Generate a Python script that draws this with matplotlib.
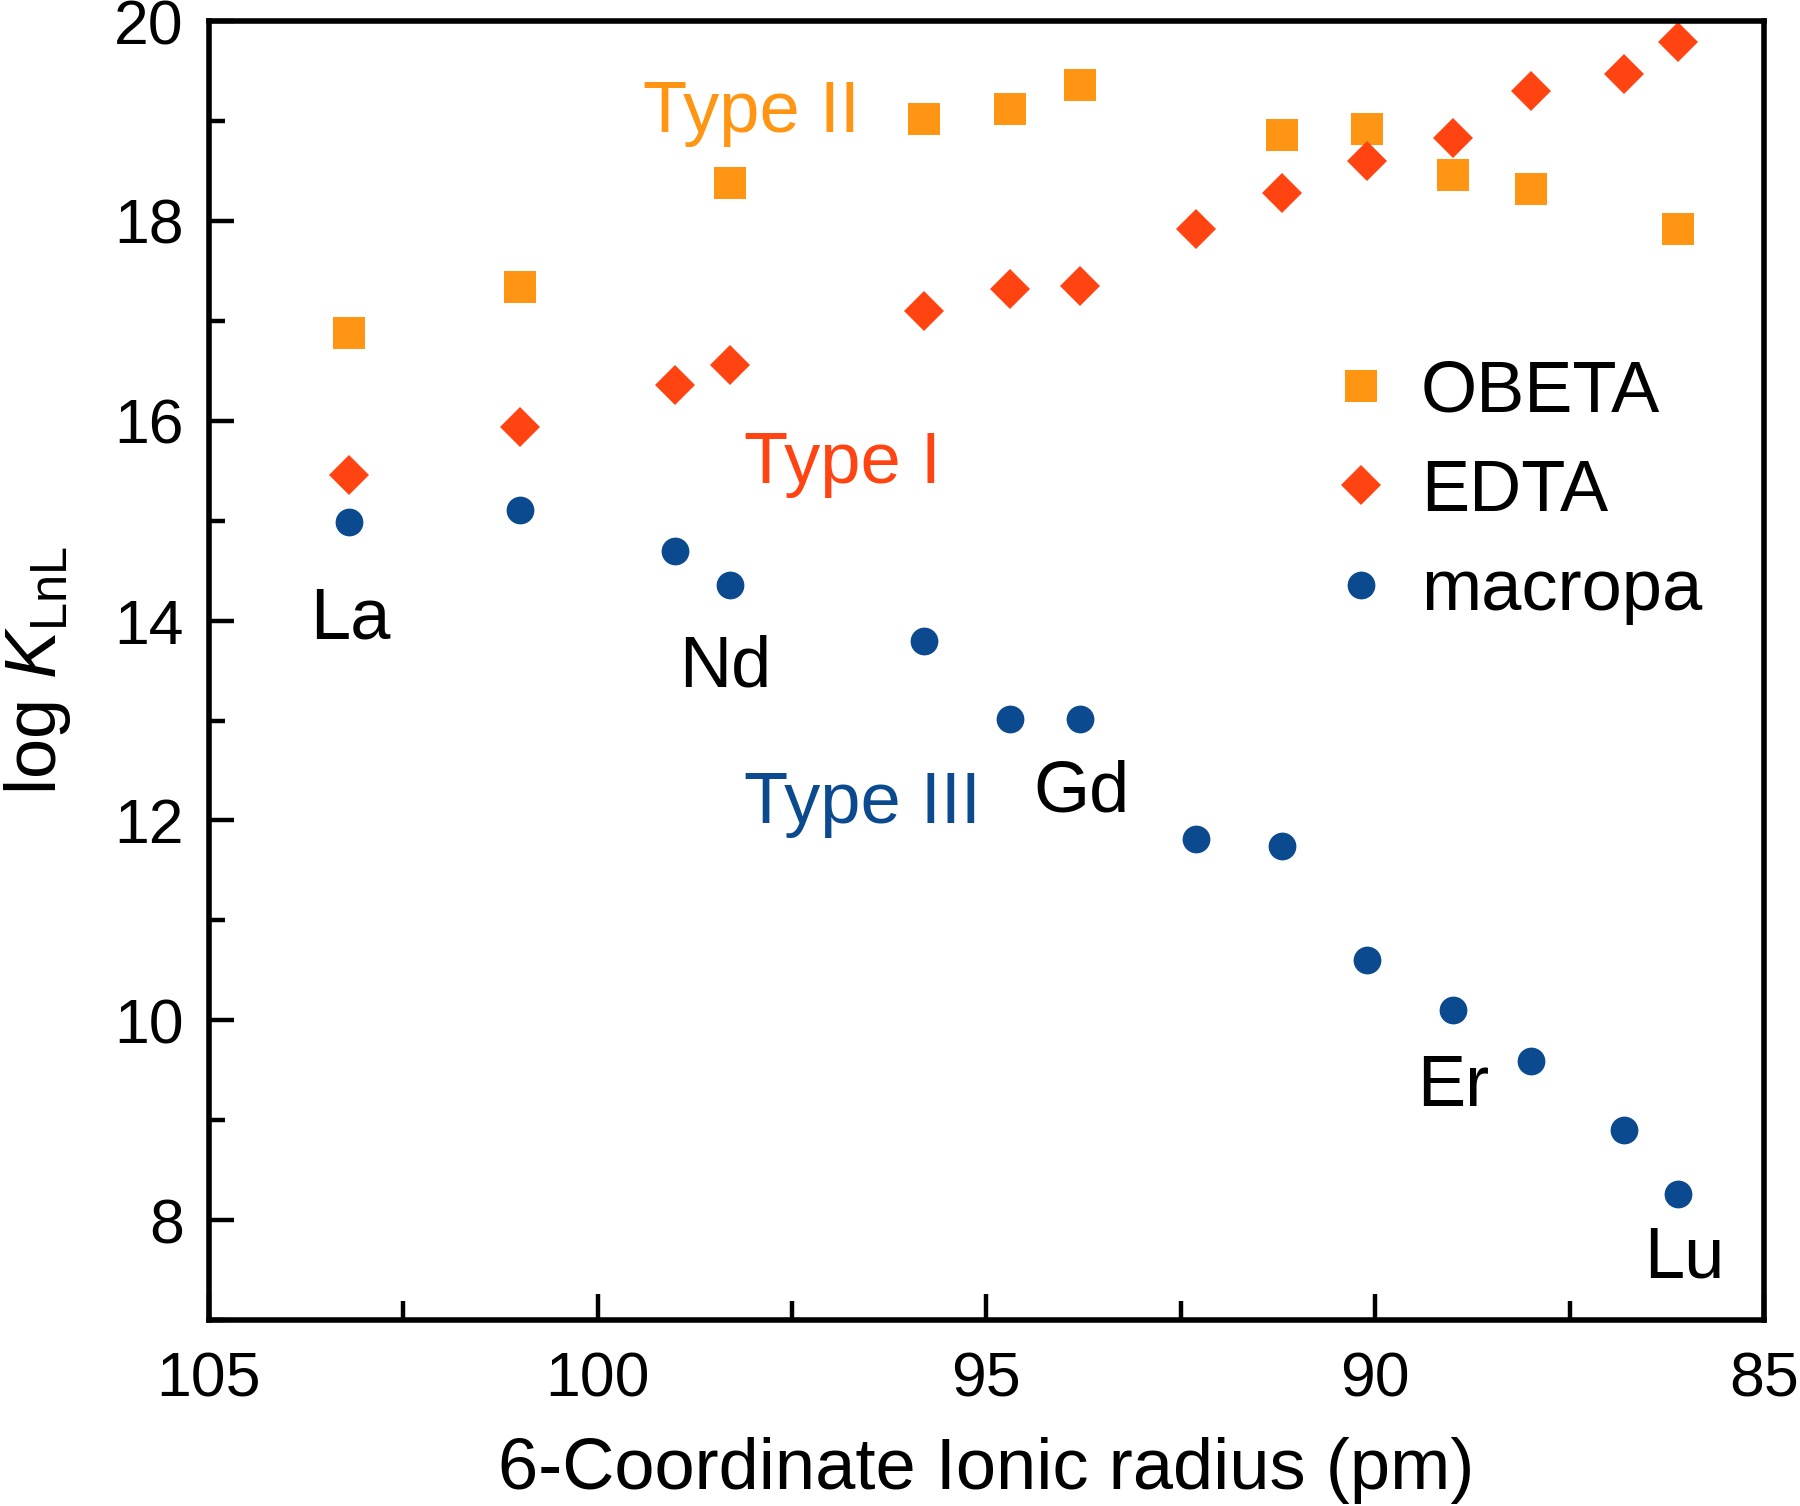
import matplotlib
matplotlib.use("Agg")
import matplotlib.pyplot as plt
from matplotlib.ticker import MultipleLocator
import numpy as np

plt.rcParams['font.family'] = ['Liberation Sans', 'DejaVu Sans']
plt.rcParams['mathtext.fontset'] = 'custom'
plt.rcParams['mathtext.rm'] = 'Liberation Sans'
plt.rcParams['mathtext.it'] = 'Liberation Sans:italic'

elements = ['La', 'Ce', 'Pr', 'Nd', 'Sm', 'Eu', 'Gd', 'Tb', 'Dy', 'Ho', 'Er', 'Tm', 'Yb', 'Lu']
radius = [103.2, 101.0, 99.0, 98.3, 95.8, 94.7, 93.8, 92.3, 91.2, 90.1, 89.0, 88.0, 86.8, 86.1]

obeta = [16.88, 17.34, np.nan, 18.38, 19.02, 19.12, 19.36, np.nan, 18.86, 18.92, 18.46, 18.32, np.nan, 17.92]
edta = [15.46, 15.94, 16.36, 16.56, 17.10, 17.32, 17.35, 17.92, 18.28, 18.60, 18.83, 19.30, 19.47, 19.79]
macropa = [14.99, 15.11, 14.70, 14.36, 13.80, 13.02, 13.02, 11.81, 11.74, 10.60, 10.10, 9.59, 8.90, 8.26]

labels_el = ['La', 'Nd', 'Gd', 'Er', 'Lu']
labels_pos = [(103.18, 14.01), (98.36, 13.53), (93.78, 12.27), (89.0, 9.33), (86.02, 7.61)]

c_obeta = '#FF9512'
c_edta = '#FF4412'
c_mac = '#0B4A8E'

fig = plt.figure(figsize=(18, 15.06), dpi=100)
ax = fig.add_axes([0.116, 0.1235, 0.864, 0.8625])

ax.plot(radius, obeta, ls='none', marker='s', ms=23.5, color=c_obeta, mew=0, label='OBETA')
ax.plot(radius, edta, ls='none', marker='D', ms=20, color=c_edta, mew=0, label='EDTA')
ax.plot(radius, macropa, ls='none', marker='o', ms=20, color=c_mac, mew=0, label='macropa')

ax.set_xlim(105, 85)
ax.set_ylim(7, 20)
ax.xaxis.set_major_locator(MultipleLocator(5))
ax.xaxis.set_minor_locator(MultipleLocator(2.5))
ax.yaxis.set_major_locator(MultipleLocator(2))
ax.yaxis.set_minor_locator(MultipleLocator(1))
ax.set_yticks([8, 10, 12, 14, 16, 18, 20])

for s in ax.spines.values():
    s.set_linewidth(4)
ax.tick_params(axis='both', which='both', direction='in', width=3.2, labelsize=45,
               top=False, right=False)
ax.tick_params(axis='x', which='major', length=19, pad=22)
ax.tick_params(axis='x', which='minor', length=14)
ax.tick_params(axis='y', which='major', length=18, pad=18)
ax.tick_params(axis='y', which='minor', length=11.5)

ax.set_xlabel('6-Coordinate Ionic radius (pm)', fontsize=52, labelpad=20)
ax.set_ylabel(r'log $\mathit{K}_{\mathrm{LnL}}$', fontsize=52, labelpad=30)

ax.text(99.42, 19.08, 'Type II', color=c_obeta, fontsize=52, ha='left', va='center')
ax.text(98.12, 15.56, 'Type I', color=c_edta, fontsize=52, ha='left', va='center')
ax.text(98.12, 12.16, 'Type III', color=c_mac, fontsize=52, ha='left', va='center')

for name, (lx, ly) in zip(labels_el, labels_pos):
    ax.text(lx, ly, name, fontsize=52, ha='center', va='center', color='black')

leg = ax.legend(loc='upper left', bbox_to_anchor=(0.699, 0.762), frameon=False, fontsize=52,
                handlelength=1.0, handletextpad=0.33, labelspacing=0.45, borderaxespad=0,
                markerscale=1.0)

fig.savefig('out.png', dpi=100)
